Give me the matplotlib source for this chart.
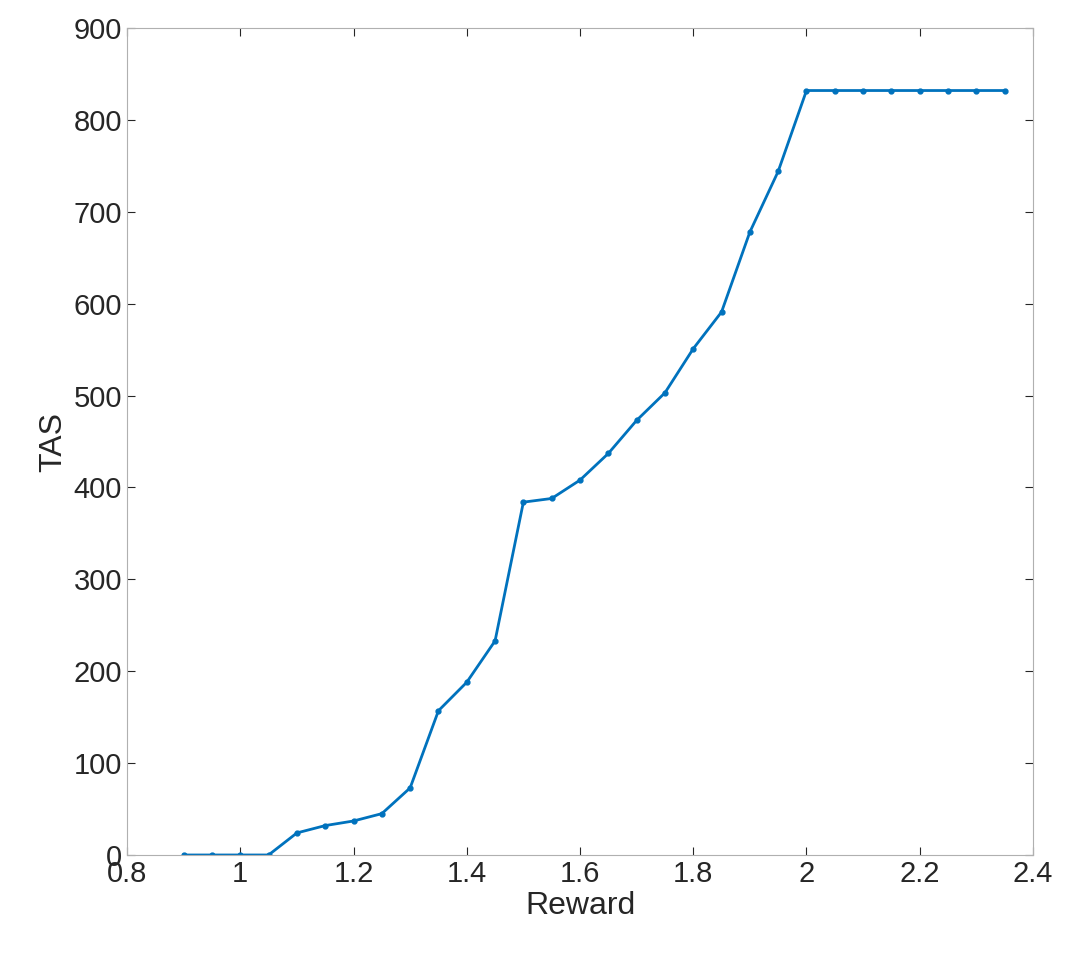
import matplotlib.pyplot as plt
import numpy as np

plt.rcParams['font.family'] = ['Liberation Sans', 'DejaVu Sans']

reward = [0.9, 0.95, 1.0, 1.05, 1.1, 1.15, 1.2, 1.25, 1.3, 1.35, 1.4, 1.45, 1.5, 1.55,
          1.6, 1.65, 1.7, 1.75, 1.8, 1.85, 1.9, 1.95, 2.0, 2.05, 2.1, 2.15, 2.2, 2.25, 2.3, 2.35]
tas = [0, 0, 0, 0, 24, 32, 37, 45, 73, 157, 188, 233, 384, 388,
       408, 437, 473, 503, 551, 591, 678, 744, 832, 832, 832, 832, 832, 832, 832, 832]
xticks = [0.8, 1, 1.2, 1.4, 1.6, 1.8, 2, 2.2, 2.4]
xticklabels = ['0.8', '1', '1.2', '1.4', '1.6', '1.8', '2', '2.2', '2.4']

fig = plt.figure(figsize=(10.71, 9.57), dpi=100)
ax = fig.add_axes([0.1186, 0.1066, 0.8459, 0.8641])
ax.plot(reward, tas, color='#0072BD', marker='o', markersize=3.5, linewidth=2)
ax.set_xlim(0.8, 2.4)
ax.set_ylim(0, 900)
ax.set_xticks(xticks)
ax.set_xticklabels(xticklabels)
ax.set_yticks(np.arange(0, 901, 100))
ax.tick_params(direction='in', length=6, labelsize=21, colors='#262626', top=True, right=True)
for s in ax.spines.values():
    s.set_color('#b0b0b0')
ax.set_xlabel('Reward', fontsize=23, color='#262626', labelpad=2)
ax.set_ylabel('TAS', fontsize=23, color='#262626', labelpad=4)
fig.savefig('out.png', dpi=100)
